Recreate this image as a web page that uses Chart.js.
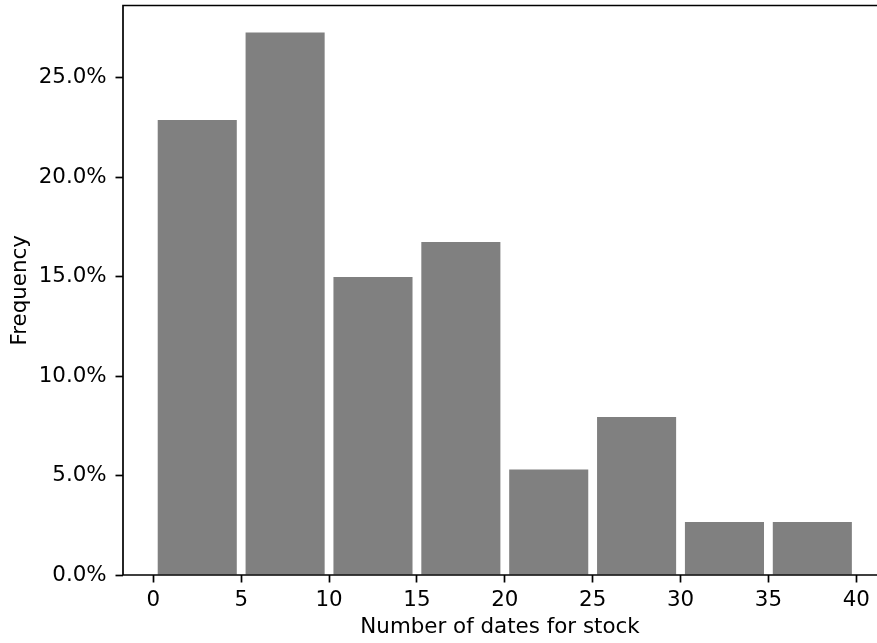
<!DOCTYPE html>
<html>
<head>
<meta charset="utf-8">
<script src="https://cdn.jsdelivr.net/npm/chart.js@4.4.1/dist/chart.umd.min.js"></script>
<style>
    html, body { margin: 0; padding: 0; background: #fff; overflow: hidden; }
    #wrap { width: 877px; height: 643px; }
</style>
</head>
<body>
<div id="wrap"><canvas id="histChart" width="877" height="643"></canvas></div>
<script>
// histogram bins (width 5) and share of stocks per bin, in %
const binCenters = [2.5, 7.5, 12.5, 17.5, 22.5, 27.5, 32.5, 37.5];
const frequency = [22.86, 27.26, 14.97, 16.74, 5.30, 7.94, 2.66, 2.66];
const xTicks = [0, 5, 10, 15, 20, 25, 30, 35, 40];
const yTicks = [0, 5, 10, 15, 20, 25];

const xLabel = 'Number of dates for stock';
const yLabel = 'Frequency';

document.addEventListener('DOMContentLoaded', () => {
    const ctx = document.getElementById('histChart').getContext('2d');

    Chart.defaults.font.family = "'DejaVu Sans', sans-serif";
    Chart.defaults.font.size = 21.4;
    Chart.defaults.color = '#000';

    // spines drawn on top of the bars; the right one falls outside the cropped figure
    const framePlugin = {
        id: 'frame',
        afterDatasetsDraw(chart) {
            const a = chart.chartArea;
            const c = chart.ctx;
            c.save();
            c.strokeStyle = '#000';
            c.lineWidth = 1.7;
            c.beginPath();
            c.moveTo(chart.width, a.top);
            c.lineTo(a.left, a.top);
            c.lineTo(a.left, a.bottom);
            c.lineTo(chart.width, a.bottom);
            c.stroke();
            c.restore();
        }
    };

    const tickGrid = {
        display: true,
        drawOnChartArea: false,
        drawTicks: true,
        tickLength: 7.5,
        tickWidth: 1.7,
        tickColor: '#000',
        offset: false
    };

    // fixed axis sizes, no extra label overhang padding
    function fixBox(s, w, h) {
        if (w) s.width = w;
        if (h) s.height = h;
        s.paddingTop = 0;
        s.paddingBottom = 0;
        s.paddingLeft = 0;
        s.paddingRight = 0;
    }

    new Chart(ctx, {
        type: 'bar',
        data: {
            datasets: [{
                data: binCenters.map((x, i) => ({ x: x, y: frequency[i] })),
                backgroundColor: '#808080',
                borderWidth: 0,
                barPercentage: 0.9,
                categoryPercentage: 1.0
            }]
        },
        options: {
            responsive: false,
            animation: false,
            layout: { padding: { top: 5.5, right: 0, left: 0, bottom: 0 } },
            plugins: {
                legend: { display: false },
                tooltip: { enabled: false }
            },
            scales: {
                x: {
                    type: 'linear',
                    min: -1.725,
                    max: 41.18,
                    offset: false,
                    grid: tickGrid,
                    border: { display: false },
                    afterBuildTicks: (s) => { s.ticks = xTicks.map(v => ({ value: v })); },
                    afterFit: (s) => fixBox(s, 0, 68),
                    ticks: { padding: 5.5, maxRotation: 0, autoSkip: false },
                    title: { display: true, text: xLabel, padding: { top: 0, bottom: 3.1 } }
                },
                y: {
                    type: 'linear',
                    min: 0,
                    max: 28.62,
                    grid: tickGrid,
                    border: { display: false },
                    afterBuildTicks: (s) => { s.ticks = yTicks.map(v => ({ value: v })); },
                    afterFit: (s) => fixBox(s, 123, 0),
                    ticks: {
                        padding: 8.8,
                        callback: (v) => Number(v).toFixed(1) + '%'
                    },
                    title: { display: true, text: yLabel, padding: { top: 7.3, bottom: 0 } }
                }
            }
        },
        plugins: [framePlugin]
    });
});
</script>
</body>
</html>
